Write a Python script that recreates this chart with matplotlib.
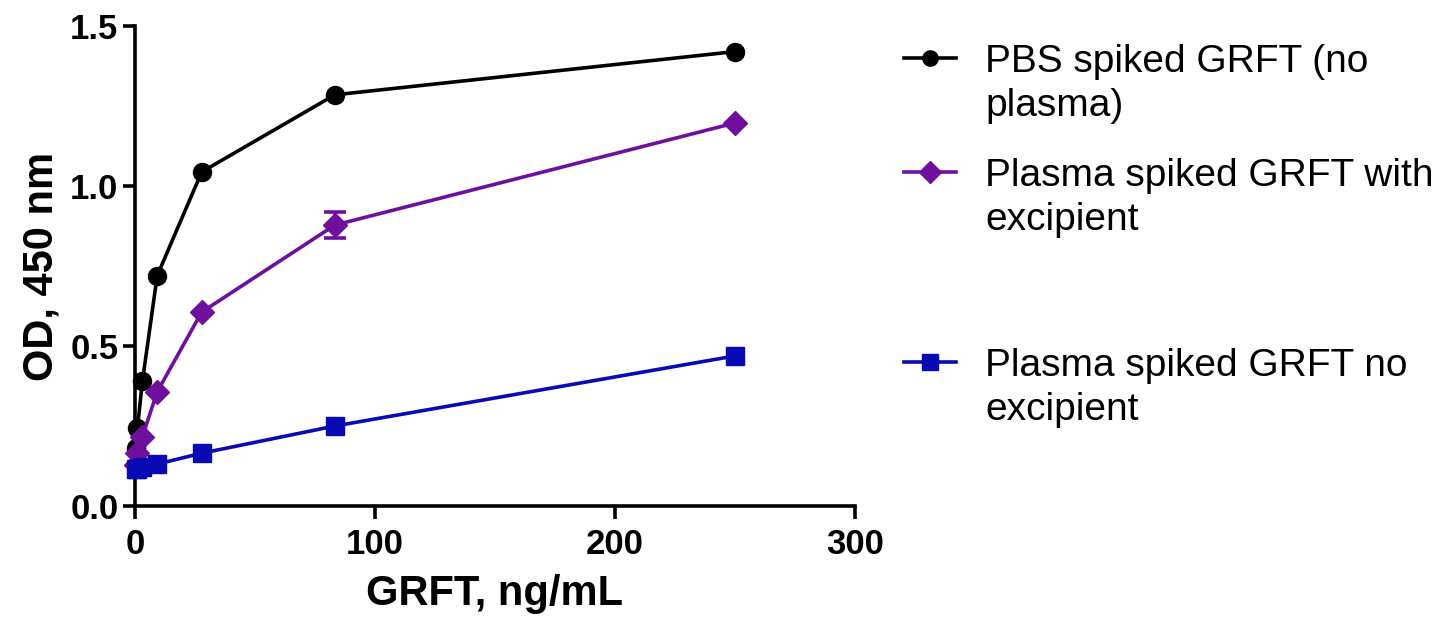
import matplotlib
matplotlib.use("Agg")
import matplotlib.pyplot as plt
from matplotlib.lines import Line2D

plt.rcParams['font.family'] = ['Liberation Sans', 'DejaVu Sans']

conc = [250, 83.3, 27.8, 9.26, 3.09, 1.03, 0.34]
pbs = [1.42, 1.285, 1.044, 0.72, 0.39, 0.245, 0.18]
with_exc = [1.197, 0.878, 0.606, 0.357, 0.217, 0.165, 0.128]
with_exc_err = [0.0, 0.04, 0.0, 0.0, 0.0, 0.0, 0.0]
no_exc = [0.469, 0.25, 0.165, 0.131, 0.123, 0.117, 0.115]

labels = [["PBS spiked GRFT (no", "plasma)"],
          ["Plasma spiked GRFT with", "excipient"],
          ["Plasma spiked GRFT no", "excipient"]]
colors = ["#000000", "#6E0F9E", "#0A0AB4"]
markers = ["o", "D", "s"]
msizes = [13, 12, 13]
leg_msizes = [11, 11, 12]

W, H = 1443, 619
fig = plt.figure(figsize=(W/100, H/100), dpi=100)
ax = fig.add_axes([135/W, 1-506/H, (855-135)/W, (506-26)/H])

for vals, c, m, ms in zip([pbs, with_exc, no_exc], colors, markers, msizes):
    ax.plot(conc, vals, color=c, marker=m, markersize=ms, linewidth=2.6,
            clip_on=False, zorder=3)

ex = [x for x, e in zip(conc, with_exc_err) if e > 0]
ey = [y for y, e in zip(with_exc, with_exc_err) if e > 0]
ee = [e for e in with_exc_err if e > 0]
ax.errorbar(ex, ey, yerr=ee, fmt="none", ecolor=colors[1], elinewidth=2.6,
            capsize=8, capthick=2.6, zorder=3)

ax.set_xlim(0, 300)
ax.set_ylim(0, 1.5)
ax.set_xticks([0, 100, 200, 300])
ax.set_yticks([0.0, 0.5, 1.0, 1.5])
ax.set_yticklabels(["0.0", "0.5", "1.0", "1.5"])
for s in ["top", "right"]:
    ax.spines[s].set_visible(False)
for s in ["left", "bottom"]:
    ax.spines[s].set_linewidth(2.6)
ax.tick_params(width=2.6, length=9, labelsize=25)
ax.tick_params(axis="x", pad=7)
ax.tick_params(axis="y", pad=3)
for lab in ax.get_xticklabels() + ax.get_yticklabels():
    lab.set_fontweight("bold")
ax.set_xlabel("GRFT, ng/mL", fontsize=30, fontweight="bold", labelpad=9)
ax.set_ylabel("OD, 450 nm", fontsize=30, fontweight="bold", labelpad=6)

# legend drawn manually to match the uneven row spacing
row_base = [72, 186, 376]
for yb, c, m, ms, lines in zip(row_base, colors, markers, leg_msizes, labels):
    fy = 1 - (yb - 14)/H
    fig.add_artist(Line2D([904/W, 956/W], [fy, fy], color=c, linewidth=2.6,
                          transform=fig.transFigure))
    fig.add_artist(Line2D([930/W], [fy], color=c, marker=m, markersize=ms,
                          linestyle="none", transform=fig.transFigure))
    for i, t in enumerate(lines):
        fig.text(985/W, 1 - (yb + 44*i)/H, t, fontsize=28, va="baseline",
                 ha="left")

fig.savefig("out.png", dpi=100)
